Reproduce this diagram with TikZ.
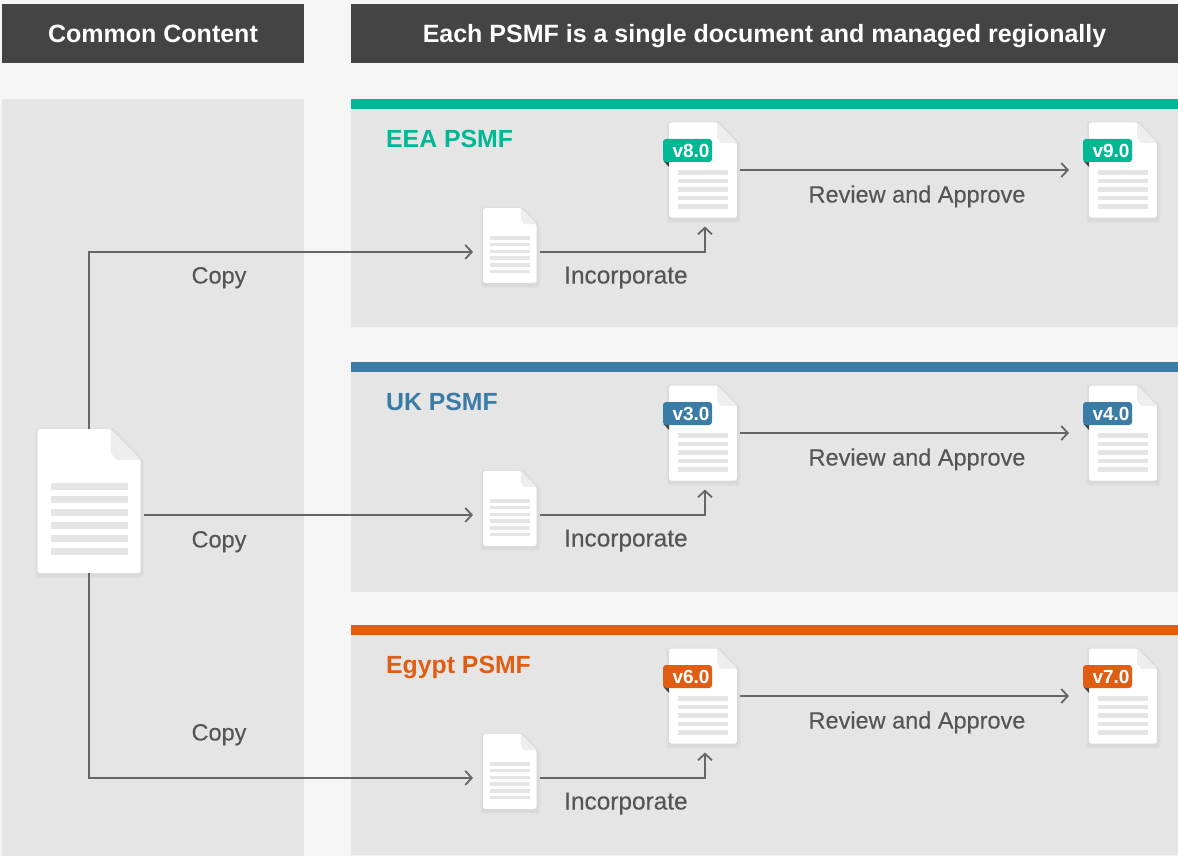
\documentclass[tikz,border=0pt]{standalone}
\usepackage{fontspec}
\setmainfont{Liberation Sans}
\usetikzlibrary{arrows.meta,calc}
\definecolor{pagebg}{HTML}{F5F5F5}
\definecolor{panelbg}{HTML}{E5E5E5}
\definecolor{headbg}{HTML}{444444}
\definecolor{linegray}{HTML}{666666}
\definecolor{textgray}{HTML}{555555}
\definecolor{foldgray}{HTML}{EEEEEE}
\definecolor{cgreen}{HTML}{00B894}
\definecolor{cblue}{HTML}{3A7CA5}
\definecolor{corange}{HTML}{DF5E14}
\tikzset{
  headbox/.style={fill=headbg,draw=none,text=white,font=\fontsize{25}{30}\selectfont\bfseries,inner sep=0pt,text height=25pt,text depth=6pt},
  panelbox/.style={fill=panelbg,draw=none},
  conn/.style={draw=linegray,line width=1.8pt},
  connarrow/.style={conn,-{Straight Barb[length=6.5pt,width=14pt,line width=1.8pt]}},
  lbl/.style={text=textgray,font=\fontsize{23.5}{28}\selectfont\addfontfeature{FakeBold=0.25},inner sep=0pt,anchor=base},
  lblw/.style={lbl,anchor=base west,font=\fontsize{24.4}{28}\selectfont\addfontfeature{FakeBold=0.25}},
  rowtitle/.style={font=\fontsize{24.8}{30}\selectfont\bfseries,inner sep=0pt,anchor=base west},
  tagbox/.style={draw=none,rounded corners=3pt,minimum width=49pt,minimum height=23pt,inner sep=0pt,text=white,font=\fontsize{19}{22}\selectfont\bfseries},
  docbody/.style={fill=white,draw=none,rounded corners=2.5pt},
  docfold/.style={fill=foldgray,draw=none},
  docline/.style={fill=panelbg,draw=none}
}
% name, x, y, scale, first text line, number of lines, connector height
\newcommand{\docnode}[7]{%
  \begin{scope}[shift={(#2,{#3})},x=#4pt,y=-#4pt]
    \foreach \w in {7,5.5,4,2.5}{
      \draw[black,opacity=.012,line width=\w pt,line join=round,yshift=-2pt,xshift=.5pt]
        (0,0) -- (74,0) -- (103,31) -- (103,144) -- (0,144) -- cycle;
    }
    \path[docbody] (0,0) -- (73,0) -- (103,31) -- (103,144) -- (0,144) -- cycle;
    \path[docfold] (73,0) -- (103,31) -- (80,31) to[out=180,in=90,looseness=.8] (73,24) -- cycle;
    \foreach \k in {1,...,#6}{
      \path[docline] (13,{#5+(\k-1)*13}) rectangle (90,{#5+(\k-1)*13+6.8});
    }
    \coordinate (#1-w) at (0,#7);
    \coordinate (#1-e) at (103,#7);
    \coordinate (#1-s) at (54.5,144);
    \node[inner sep=0pt,minimum width={103*#4 pt},minimum height={144*#4 pt},anchor=north west] (#1) at (0,0) {};
  \end{scope}%
}
% name, row offset, colour, title, v1, v2
\newcommand{\psmfrow}[6]{%
  \path[panelbox] (351,{99+#2}) rectangle (1178,{327+#2+(#2>0 ? 2:0)});
  \path[fill=#3] (351,{99+#2}) rectangle (1178,{109+#2});
  \node[rowtitle,text=#3] (#1title) at (386,{147+#2}) {#4};
  \docnode{#1s}{483}{208+#2}{.52}{54}{6}{84.5}
  \docnode{#1a}{669}{122.5+#2}{.66}{72}{5}{72}
  \docnode{#1b}{1089}{122.5+#2}{.66}{72}{5}{72}
  \path[fill=headbg] (663.5,{161+#2}) -- (669,{167+#2}) -- (669,{161+#2}) -- cycle;
  \path[fill=headbg] (1083.5,{161+#2}) -- (1089,{167+#2}) -- (1089,{161+#2}) -- cycle;
  \node[tagbox,fill=#3] (#1ta) at (687.5,{150.5+#2}) {\hspace*{7pt}#5};
  \node[tagbox,fill=#3] (#1tb) at (1107.5,{150.5+#2}) {\hspace*{7pt}#6};
  \draw[connarrow,shorten <=3pt,shorten >=9pt] (#1s-e) -| (#1a-s);
  \draw[connarrow,shorten <=3pt,shorten >=20pt] (#1a-e) -- (#1b-w);
  \node[lbl] (#1rev) at (917,{202.5+#2}) {Review and Approve};
  \node[lblw] (#1inc) at (564,{283.5+#2}) {Incorporate};
}
\begin{document}
\begin{tikzpicture}[x=1pt,y=-1pt]
\useasboundingbox (0,0) rectangle (1178,856);
\path[fill=pagebg] (0,0) rectangle (1178,856);
\node[headbox,minimum width=302pt,minimum height=59pt] (h1) at (153,33.5) {Common Content};
\node[headbox,minimum width=827pt,minimum height=59pt] (h2) at (764.5,33.5) {Each PSMF is a single document and managed regionally};
\path[panelbox] (2,99) rectangle (304,856);
\psmfrow{r}{0}{cgreen}{EEA PSMF}{v8.0}{v9.0}
\psmfrow{u}{263}{cblue}{UK PSMF}{v3.0}{v4.0}
\psmfrow{g}{526}{corange}{Egypt PSMF}{v6.0}{v7.0}
\docnode{main}{37.6}{429}{1}{54}{6}{85}
\draw[connarrow,shorten >=10pt] (main.north) |- (rs-w);
\draw[connarrow,shorten <=3pt,shorten >=10pt] (us-w -| main.east) -- (us-w);
\draw[connarrow,shorten >=10pt] (main.south) |- (gs-w);
\node[lbl] (c1) at (219,283.5) {Copy};
\node[lbl] (c2) at (219,547.5) {Copy};
\node[lbl] (c3) at (219,740.5) {Copy};
\end{tikzpicture}
\end{document}
